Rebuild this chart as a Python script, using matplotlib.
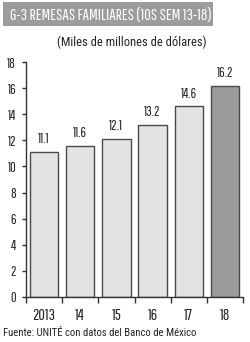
import matplotlib
matplotlib.use("Agg")
import matplotlib.pyplot as plt
from matplotlib.patches import Rectangle

categories = ["2013", "14", "15", "16", "17", "18"]
values = [11.1, 11.6, 12.1, 13.2, 14.6, 16.2]
value_labels = ["11.1", "11.6", "12.1", "13.2", "14.6", "16.2"]
yticks = [0, 2, 4, 6, 8, 10, 12, 14, 16, 18]

NARROW = ["Pathway Gothic One", "League Gothic", "Oswald", "DejaVu Sans"]
FAM2 = ["Roboto Condensed", "Oswald", "DejaVu Sans"]
plt.rcParams['font.family'] = NARROW
TXT = "#222222"

fig = plt.figure(figsize=(2.5, 3.42), dpi=100)
fig.patch.set_facecolor("white")

ax = fig.add_axes([0.104, 0.1316, 0.868, 0.6871])
x = list(range(len(categories)))
colors = ["#e3e3e3"] * (len(values) - 1) + ["#9b9b9b"]
ax.bar(x, values, width=0.78, color=colors, edgecolor="#4a4a4a", linewidth=1.0, zorder=2)
for xi, v, lab in zip(x, values, value_labels):
    ax.text(xi, v + 0.45, lab, ha="center", va="bottom", fontsize=10, color=TXT)

ax.set_xlim(-0.5, len(categories) - 0.5)
ax.set_ylim(0, 18)
ax.set_yticks(yticks)
ax.set_yticklabels([str(t) for t in yticks], fontsize=10, color=TXT)
ax.set_xticks([i - 0.5 for i in range(len(categories) + 1)])
ax.set_xticklabels([])
ax.set_xticks(x, minor=True)
ax.set_xticklabels(categories, minor=True, fontsize=11.5, color=TXT)
ax.tick_params(axis="x", which="minor", length=0, pad=8)
ax.tick_params(axis="x", which="major", length=4, width=1, color="#333333")
ax.tick_params(axis="y", length=3, width=1, color="#333333", pad=4)
for s in ["top", "right"]:
    ax.spines[s].set_visible(False)
for s in ["left", "bottom"]:
    ax.spines[s].set_color("#333333")
    ax.spines[s].set_linewidth(1)

# Title banner
fig.patches.append(Rectangle((3 / 250, 1 - 26 / 342), 210 / 250, 24 / 342,
                             transform=fig.transFigure, facecolor="#9c9c9c",
                             edgecolor="none"))
fig.text(10 / 250, 1 - 15 / 342, "G-3 REMESAS FAMILIARES (1OS SEM 13-18)",
         ha="left", va="center", fontsize=11.6, color="white")
fig.text(132 / 250, 1 - 42 / 342, "(Miles de millones de dólares)",
         ha="center", va="center", fontsize=9, color=TXT, family=FAM2)
fig.text(3 / 250, 1 - 333 / 342, "Fuente: UNITÉ con datos del Banco de México",
         ha="left", va="center", fontsize=7.7, color=TXT, family=FAM2)

fig.savefig("out.png", dpi=100, facecolor="white")
